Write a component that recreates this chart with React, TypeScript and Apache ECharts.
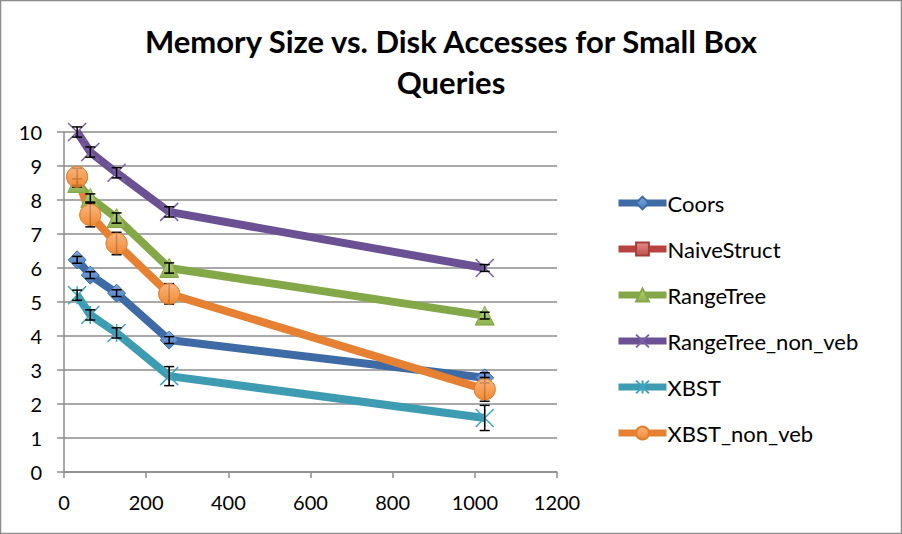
import React, { useEffect, useRef } from "react";
import * as echarts from "echarts";

const title = "Memory Size vs. Disk Accesses for Small Box\nQueries";
const xValues = [32, 64, 128, 256, 1024];
const seriesNames = ["Coors", "NaiveStruct", "RangeTree", "RangeTree_non_veb", "XBST", "XBST_non_veb"];
const coors = [6.24, 5.79, 5.26, 3.88, 2.77];
const naiveStruct: number[] = [];
const rangeTree = [8.5, 8.06, 7.47, 6.0, 4.6];
const rangeTreeNonVeb = [10.0, 9.41, 8.8, 7.65, 6.0];
const xbst = [5.2, 4.62, 4.09, 2.82, 1.59];
const xbstNonVeb = [8.68, 7.56, 6.72, 5.24, 2.43];

const coorsErr = [0.1, 0.1, 0.1, 0.1, 0.15];
const rangeTreeErr = [0.12, 0.12, 0.15, 0.15, 0.1];
const rangeTreeNonVebErr = [0.15, 0.15, 0.15, 0.15, 0.1];
const xbstErr = [0.15, 0.15, 0.15, 0.28, 0.37];
const xbstNonVebErr = [0.25, 0.35, 0.33, 0.3, 0.35];

const xTicks = { min: 0, max: 1200, interval: 200 };
const yTicks = { min: 0, max: 10, interval: 1 };

const FONT = "Lato";

function pairs(vals: number[]) {
  return vals.map((v, i) => [xValues[i], v]);
}

function errData(vals: number[], errs: number[]) {
  return vals.map((v, i) => [xValues[i], v - errs[i], v + errs[i]]);
}

export default function App() {
  const ref = useRef<HTMLDivElement>(null);
  useEffect(() => {
    if (!ref.current) return;
    const chart = echarts.init(ref.current, undefined, { renderer: "svg" });

    const grad = (top: string, bottom: string) =>
      new echarts.graphic.LinearGradient(0, 0, 0, 1, [
        { offset: 0, color: top },
        { offset: 1, color: bottom },
      ]);

    const lineSeries = (
      name: string,
      vals: number[],
      lineColor: string,
      symbol: string,
      symbolSize: number,
      itemStyle: any
    ) => ({
      name,
      type: "line",
      data: pairs(vals),
      symbol,
      symbolSize,
      showSymbol: true,
      z: 2,
      color: lineColor,
      lineStyle: { width: 8, color: lineColor },
      itemStyle,
    });

    const errSeries = (vals: number[], errs: number[]) => ({
      type: "custom",
      silent: true,
      z: 4,
      data: errData(vals, errs),
      renderItem: (params: any, api: any) => {
        const x = api.value(0);
        const lo = api.coord([x, api.value(1)]);
        const hi = api.coord([x, api.value(2)]);
        const hw = 5;
        const style = { stroke: "#000", lineWidth: 1.5 };
        return {
          type: "group",
          children: [
            { type: "line", shape: { x1: lo[0], y1: lo[1], x2: hi[0], y2: hi[1] }, style },
            { type: "line", shape: { x1: lo[0] - hw, y1: lo[1], x2: lo[0] + hw, y2: lo[1] }, style },
            { type: "line", shape: { x1: hi[0] - hw, y1: hi[1], x2: hi[0] + hw, y2: hi[1] }, style },
          ],
        };
      },
    });

    const orangeStyle = {
      color: grad("#FBB47C", "#F08A33"),
      borderColor: "#E07E30",
      borderWidth: 1,
    };

    const option: any = {
      animation: false,
      backgroundColor: "#fff",
      title: {
        text: title,
        left: "center",
        top: 15,
        textStyle: {
          fontFamily: FONT,
          fontSize: 31,
          fontWeight: "bold",
          color: "#000",
          lineHeight: 41,
        },
      },
      graphic: [
        {
          type: "rect",
          shape: { x: 0.5, y: 0.5, width: 901, height: 533 },
          style: { fill: "none", stroke: "#8c8c8c", lineWidth: 1.5 },
          silent: true,
        },
      ],
      legend: {
        orient: "vertical",
        left: 615,
        top: 192,
        itemWidth: 48,
        itemHeight: 16,
        itemGap: 24,
        padding: 0,
        data: seriesNames,
        lineStyle: { width: 7 },
        textStyle: { fontFamily: FONT, fontSize: 22, color: "#000", padding: [0, 0, 0, -4] },
      },
      grid: { left: 64, right: 345, top: 132, bottom: 62, containLabel: false },
      xAxis: {
        type: "value",
        ...xTicks,
        axisLine: { show: true, lineStyle: { color: "#8c8c8c", width: 1.5 } },
        axisTick: { show: true, length: 6, lineStyle: { color: "#8c8c8c", width: 1.5 } },
        splitLine: { show: false },
        axisLabel: {
          fontFamily: FONT,
          fontSize: 20,
          color: "#000",
          margin: 20,
          formatter: (v: number) => String(v),
        },
      },
      yAxis: {
        type: "value",
        ...yTicks,
        axisLine: { show: true, lineStyle: { color: "#8c8c8c", width: 1.5 } },
        axisTick: { show: true, length: 7, lineStyle: { color: "#8c8c8c", width: 1.5 } },
        splitLine: { show: true, lineStyle: { color: "#8c8c8c", width: 1.5 } },
        axisLabel: { fontFamily: FONT, fontSize: 20, color: "#000", margin: 22 },
      },
      series: [
        lineSeries("Coors", coors, "#3E6BA6", "diamond", 18, {
          color: grad("#7DA7DE", "#4A7CC0"),
          borderColor: "#3E6BA6",
          borderWidth: 1,
        }),
        lineSeries("NaiveStruct", naiveStruct, "#B8423F", "rect", 13, {
          color: grad("#E58B88", "#C0504D"),
          borderColor: "#A33E3B",
          borderWidth: 1,
        }),
        lineSeries("RangeTree", rangeTree, "#84A848", "triangle", 19, {
          color: grad("#B9D880", "#8DB04E"),
          borderColor: "#84A848",
          borderWidth: 1,
        }),
        lineSeries("RangeTree_non_veb", rangeTreeNonVeb, "#6B5194", "path://M0 0L10 10M10 0L0 10", 18, {
          color: "rgba(0,0,0,0)",
          borderColor: "#7B60A8",
          borderWidth: 1.5,
        }),
        lineSeries("XBST", xbst, "#3D9BB2", "path://M0 0L10 10M10 0L0 10M5 0L5 10", 18, {
          color: "rgba(0,0,0,0)",
          borderColor: "#3FA6C0",
          borderWidth: 1.5,
        }),
        lineSeries("XBST_non_veb", xbstNonVeb, "#E68133", "circle", 21, orangeStyle),
        errSeries(coors, coorsErr),
        errSeries(rangeTree, rangeTreeErr),
        errSeries(rangeTreeNonVeb, rangeTreeNonVebErr),
        errSeries(xbst, xbstErr),
        errSeries(xbstNonVeb, xbstNonVebErr),
        {
          type: "scatter",
          silent: true,
          z: 5,
          data: pairs(xbstNonVeb),
          symbol: "circle",
          symbolSize: 21,
          itemStyle: orangeStyle,
        },
      ],
    };
    chart.setOption(option);
    return () => chart.dispose();
  }, []);

  return (
    <div style={{ position: "fixed", left: 0, top: 0, width: 902, height: 534, background: "#fff" }}>
      <div ref={ref} style={{ width: 902, height: 534 }} />
    </div>
  );
}
